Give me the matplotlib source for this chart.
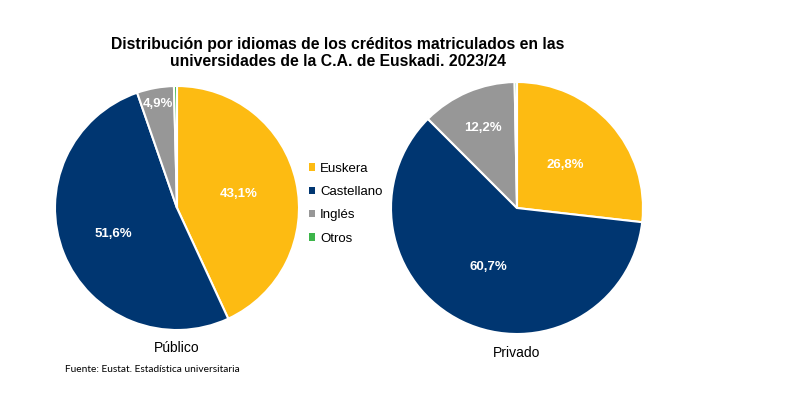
import matplotlib
matplotlib.use("Agg")
import matplotlib.pyplot as plt
import numpy as np
from matplotlib.patches import Patch

categories = ["Euskera", "Castellano", "Inglés", "Otros"]
publico = [43.1, 51.6, 4.9, 0.4]
privado = [26.8, 60.7, 12.2, 0.3]
pie_titles = ["Público", "Privado"]
colors = ["#FDBB12", "#003671", "#979797", "#3DB54A"]

W, H = 800, 393
plt.rcParams['font.family'] = ['Liberation Sans', 'DejaVu Sans']
fig = plt.figure(figsize=(W / 100, H / 100), dpi=100)

def px_axes(cx, cy, r):
    return fig.add_axes([(cx - r) / W, (H - cy - r) / H, 2 * r / W, 2 * r / H])

def draw(ax, vals, dists, title, title_y):
    ax.pie(vals, colors=colors, startangle=90, counterclock=False,
           wedgeprops=dict(edgecolor="white", linewidth=1.5))
    total = sum(vals)
    cum = 0
    for v, d in zip(vals, dists):
        mid = 90 - 360 * (cum + v / 2) / total
        cum += v
        if d is None:
            continue
        a = np.deg2rad(mid)
        ax.text(d * np.cos(a), d * np.sin(a), f"{v:.1f}%".replace(".", ","),
                ha="center", va="center", color="white", fontsize=9.5, fontweight="bold")
    ax.set_xlim(-1, 1)
    ax.set_ylim(-1, 1)
    ax.set_aspect("equal")
    ax.axis("off")
    ax.text(0, title_y, title, ha="center", va="center", fontsize=10, color="black")

ax1 = px_axes(177, 208, 122)
draw(ax1, publico, [0.52, 0.56, 0.87, None], pie_titles[0], -1.15)

ax2 = px_axes(517, 208, 126)
draw(ax2, privado, [0.51, 0.52, 0.69, None], pie_titles[1], -1.15)

handles = [Patch(facecolor=c, edgecolor="none") for c in colors]
fig.legend(handles, categories, loc="upper left", bbox_to_anchor=(297 / W, 1 - 151 / H),
           frameon=False, fontsize=9.5, handlelength=0.5, handleheight=0.5,
           handletextpad=0.35, labelspacing=0.85)

fig.text(338 / W, 1 - 45 / H, "Distribución por idiomas de los créditos matriculados en las",
         ha="center", va="center", fontsize=11.3, fontweight="bold")
fig.text(338 / W, 1 - 62 / H, "universidades de la C.A. de Euskadi. 2023/24",
         ha="center", va="center", fontsize=11.3, fontweight="bold")
fig.text(65 / W, 1 - 369 / H, "Fuente: Eustat. Estadística universitaria",
         ha="left", va="center", fontsize=7.3, family=["Lato", "DejaVu Sans"])

fig.savefig("out.png", dpi=100, facecolor="white")
